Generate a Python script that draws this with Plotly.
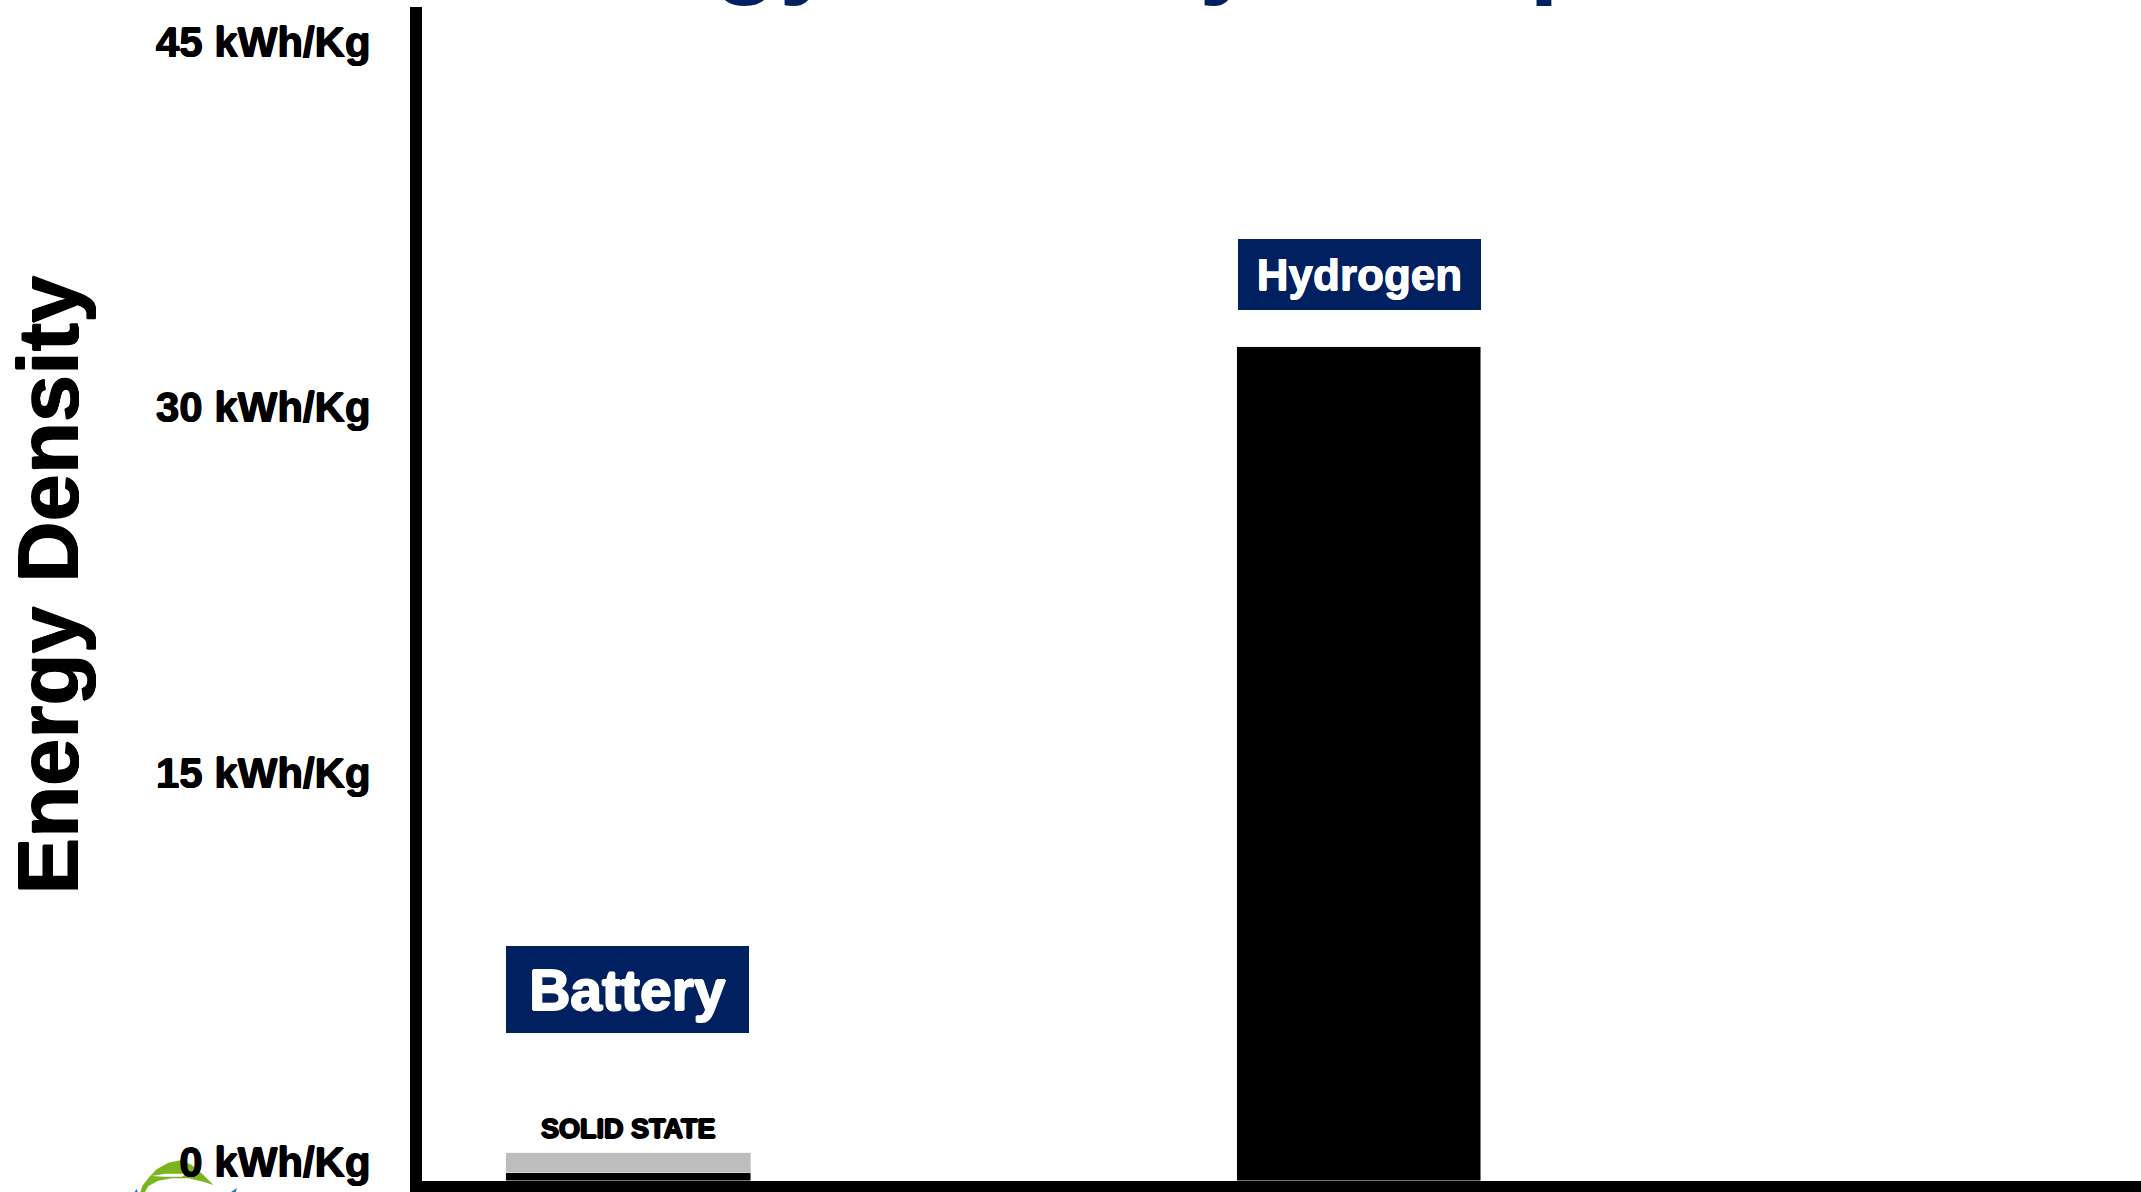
import plotly.graph_objects as go

# Energy density by storage technology, kWh per kg
categories = ["Battery", "Hydrogen"]
base_density = [0.32, 33.35]
solid_state_extra = [0.8, 0.0]
tick_values = [45, 30, 15, 0]
tick_labels = ["45 kWh/Kg", "30 kWh/Kg", "15 kWh/Kg", "0 kWh/Kg"]
chart_title = "Energy Density Comparison"
axis_title = "Energy Density"

NAVY = "#002060"
FONT = "Liberation Sans"
W, H = 2141, 1192
L, T, B = 422, 7, 11  # plot-area margins in pixels
PLOT_W, PLOT_H = W - L, H - T - B
PX_PER_UNIT = 25.0

# Tick labels sit slightly above their gridline position; offsets in pixels
tick_lift = [14, 24, 33, 19]
tick_positions = [v + s / PX_PER_UNIT for v, s in zip(tick_values, tick_lift)]


def heavy(color, r=1):
    """Text shadow that thickens a bold face."""
    return f"{r}px 0 0 {color}, -{r}px 0 0 {color}, 0 {r}px 0 {color}, 0 -{r}px 0 {color}"


def px(x):
    return (x - L) / PLOT_W


def py(y):
    return (H - B - y) / PLOT_H


def logo_path(points):
    # Logo outline is laid out on a 3x grid anchored at its corner (125, 1150)
    return "M " + " L ".join(
        f"{px(125 + x / 3):.5f},{py(1150 + y / 3):.5f}" for x, y in points
    ) + " Z"


fig = go.Figure()
fig.add_bar(x=categories, y=base_density, marker_color="#000000", width=0.335, name="Standard")
fig.add_bar(x=categories, y=solid_state_extra, marker_color="#BDBDBD", width=0.335, name="Solid state")

annotations = [
    dict(x="Battery", y=7.66, xshift=-1, text="<b>Battery</b>", width=243, height=87,
         font=dict(size=57, color="white", family=FONT, shadow=heavy("white"))),
    dict(x="Hydrogen", y=36.26, xshift=1, text="<b>Hydrogen</b>", width=243, height=71,
         font=dict(size=44, color="white", family=FONT, shadow=heavy("white", 0.5))),
]
for a in annotations:
    a.update(xref="x", yref="y", showarrow=False, bgcolor=NAVY, borderpad=0, borderwidth=0,
             xanchor="center", yanchor="middle")

annotations.append(dict(
    x="Battery", y=2.08, xref="x", yref="y", showarrow=False, text="<b>SOLID STATE</b>",
    font=dict(size=27, color="black", family=FONT, shadow=heavy("#000")),
))
annotations.append(dict(
    x=px(-2), y=py(585), xref="paper", yref="paper", showarrow=False, textangle=-90,
    text=f"<b>{axis_title}</b>", font=dict(size=85, color="black", family=FONT, shadow=heavy("#000", 0.7)),
))

# Small round logo, cut off by the lower page edge, behind the zero label
logo_shapes = [
    dict(type="path", xref="paper", yref="paper", layer="below", line_width=0, fillcolor="#7AB51D",
         path=logo_path([(46, 126), (52, 108), (72, 82), (95, 58), (130, 38), (170, 30), (200, 45),
                         (230, 70), (265, 105), (235, 95), (190, 85), (140, 85), (100, 92), (70, 108),
                         (60, 126)])),
    dict(type="path", xref="paper", yref="paper", layer="below", line_width=0, fillcolor="#FFFFFF",
         path=logo_path([(80, 78), (120, 71), (170, 71), (207, 61), (170, 80), (120, 80)])),
    dict(type="path", xref="paper", yref="paper", layer="below", line_width=0, fillcolor="#1B75BB",
         path=logo_path([(35, 117), (29, 126), (38, 126)])),
    dict(type="path", xref="paper", yref="paper", layer="below", line_width=0, fillcolor="#1B75BB",
         path=logo_path([(336, 114), (318, 126), (332, 126)])),
]

fig.update_layout(
    width=W, height=H, autosize=False,
    margin=dict(l=L, r=0, t=T, b=B, pad=0),
    paper_bgcolor="white", plot_bgcolor="white",
    barmode="stack", showlegend=False, bargap=0,
    title=dict(text=f"<b>{chart_title}</b>", x=1196 / W, xanchor="center", y=1, yanchor="bottom",
               pad=dict(b=16), font=dict(size=108, color=NAVY, family=FONT)),
    annotations=annotations, shapes=logo_shapes,
    xaxis=dict(range=[-0.282, 2.07], showgrid=False, zeroline=False, showticklabels=False, ticks="",
               showline=True, linecolor="black", linewidth=12),
    yaxis=dict(range=[0, PLOT_H / PX_PER_UNIT], showgrid=False, zeroline=False, showline=True,
               linecolor="black", linewidth=12, tickmode="array", tickvals=tick_positions,
               ticktext=[f"<b>{t}</b>" for t in tick_labels], ticks="", ticklabelstandoff=31,
               tickfont=dict(size=42, color="black", family=FONT, shadow=heavy("#000", 0.6))),
)
fig.write_html("out.html")
